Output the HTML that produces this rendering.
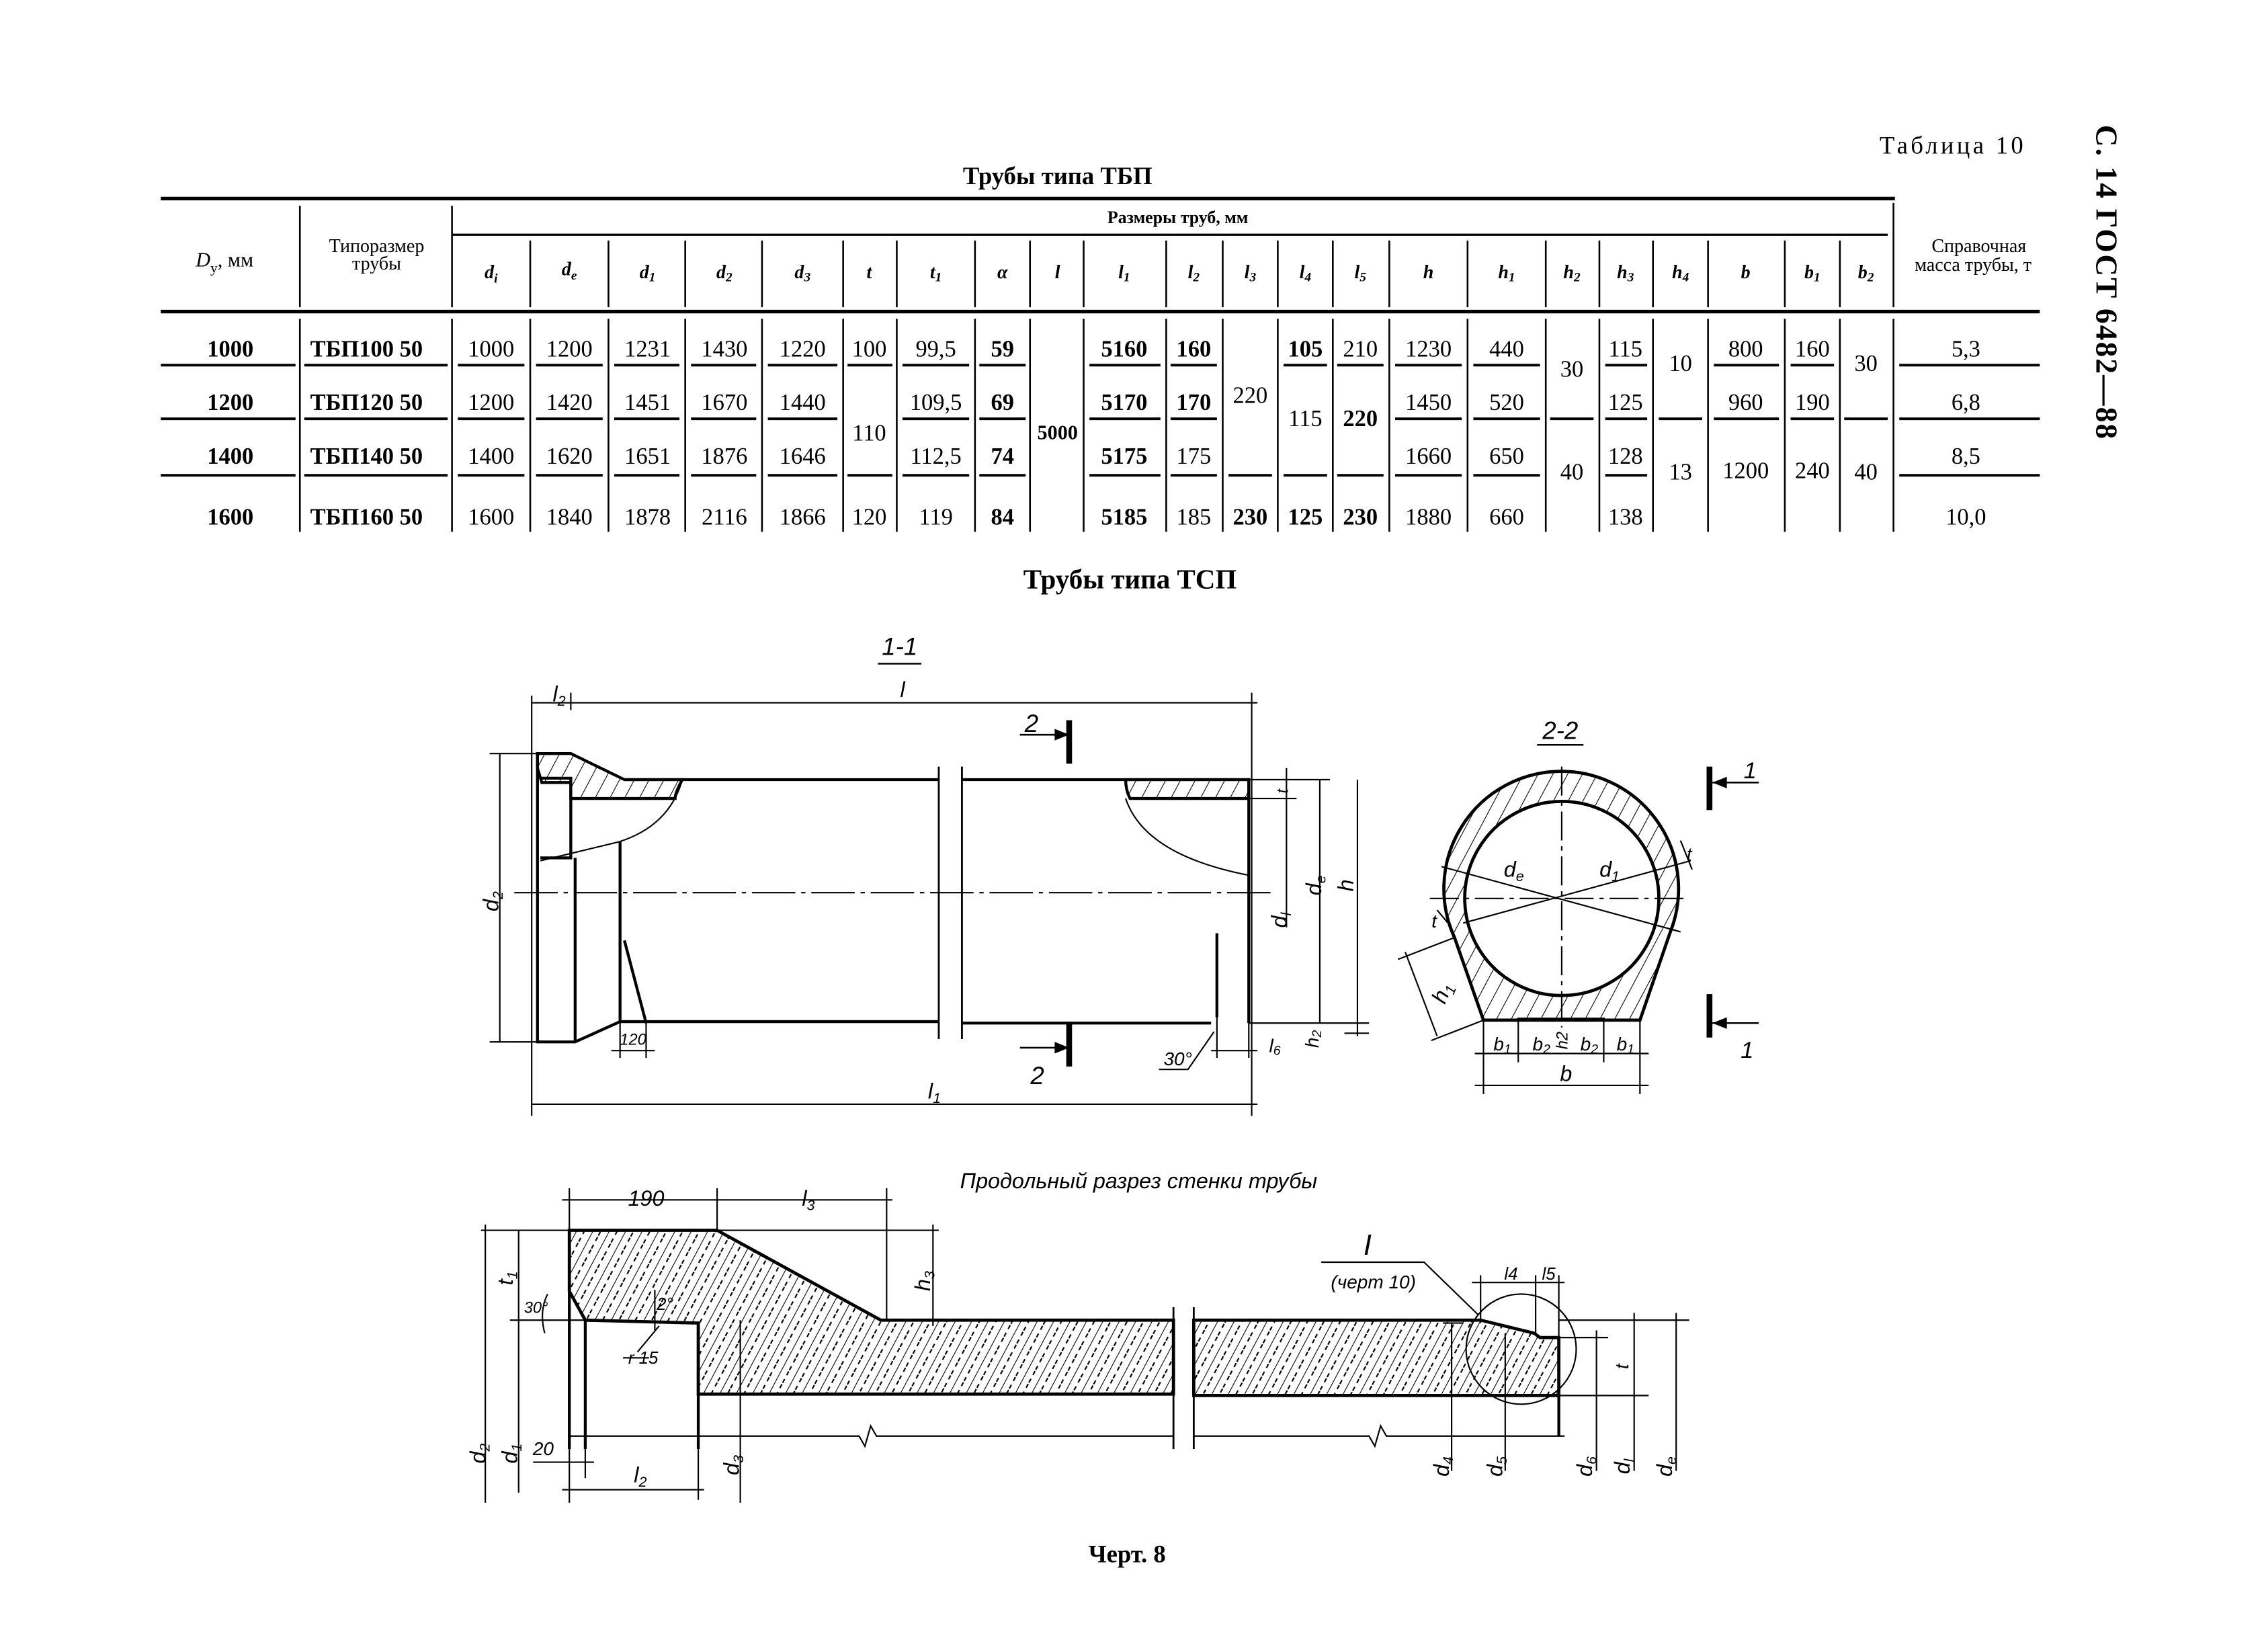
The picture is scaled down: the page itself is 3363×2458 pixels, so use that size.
<!DOCTYPE html>
<html><head><meta charset="utf-8"><style>
html,body{margin:0;padding:0;background:#fff}
svg{display:block}
text{font-family:"Liberation Serif","DejaVu Serif",serif;fill:#000}
.n{font-size:16px;text-anchor:middle}
.b{font-weight:bold}
.h{font-size:13px;text-anchor:middle;font-style:italic;font-weight:bold}
.s{font-family:"Liberation Sans","DejaVu Sans",sans-serif;font-style:italic;font-size:15px;text-anchor:middle}
</style></head><body>
<svg width="3363" height="2458" viewBox="0 0 1560 1140" preserveAspectRatio="none" xmlns="http://www.w3.org/2000/svg">
<defs>
<pattern id="ht" width="9" height="9" patternUnits="userSpaceOnUse" patternTransform="rotate(28)">
<line x1="0" y1="0" x2="0" y2="9" stroke="#000" stroke-width="1"/>
</pattern>
<pattern id="ht2" width="10" height="10" patternUnits="userSpaceOnUse" patternTransform="rotate(28)">
<line x1="0" y1="0" x2="0" y2="10" stroke="#000" stroke-width="1"/>
<line x1="5" y1="0" x2="5" y2="10" stroke="#000" stroke-width="1" stroke-dasharray="3 3"/>
</pattern>
</defs>
<g stroke="#000" fill="none">
<!-- TABLE -->
<line x1="111" y1="137" x2="1308" y2="137" stroke-width="2.5"/>
<line x1="312" y1="162" x2="1303" y2="162" stroke-width="1.5"/>
<line x1="111" y1="215" x2="1408" y2="215" stroke-width="2.5"/>
<g stroke-width="1.2">
<line x1="207" y1="142" x2="207" y2="212"/><line x1="312" y1="142" x2="312" y2="212"/><line x1="1307" y1="140" x2="1307" y2="212"/>
<path d="M366 166V212M420 166V212M473 166V212M526 166V212M582 166V212M619 166V212M673 166V212M711 166V212M748 166V212M805 166V212M844 166V212M882 166V212M920 166V212M959 166V212M1013 166V212M1067 166V212M1104 166V212M1141 166V212M1179 166V212M1232 166V212M1270 166V212"/>
<path d="M207 220V367M312 220V367M366 220V367M420 220V367M473 220V367M526 220V367M582 220V367M619 220V367M673 220V367M711 220V367M748 220V367M805 220V367M844 220V367M882 220V367M920 220V367M959 220V367M1013 220V367M1067 220V367M1104 220V367M1141 220V367M1179 220V367M1232 220V367M1270 220V367M1307 220V367"/>
</g>
<g stroke-width="1.8">
<!-- row1 underline -->
<path d="M111 252H204M210 252H309M316 252H362M370 252H416M424 252H469M477 252H522M530 252H578M585 252H616M623 252H669M676 252H708M752 252H801M808 252H840M886 252H916M923 252H955M963 252H1009M1017 252H1063M1108 252H1137M1183 252H1228M1236 252H1266M1311 252H1408"/>
<path d="M111 289H204M210 289H309M316 289H362M370 289H416M424 289H469M477 289H522M530 289H578M623 289H669M676 289H708M752 289H801M808 289H840M963 289H1009M1017 289H1063M1070 289H1100M1108 289H1137M1145 289H1175M1183 289H1228M1236 289H1266M1273 289H1303M1311 289H1408"/>
<path d="M111 328H204M210 328H309M316 328H362M370 328H416M424 328H469M477 328H522M530 328H578M585 328H616M623 328H669M676 328H708M752 328H801M808 328H840M848 328H878M886 328H916M923 328H955M963 328H1009M1017 328H1063M1108 328H1137M1311 328H1408"/>
</g>
</g>
<text x="730" y="127" class="b" style="font-size:17px;text-anchor:middle">Трубы типа ТБП</text>
<text x="1348" y="106" style="font-size:17px;text-anchor:middle;letter-spacing:2px">Таблица 10</text>
<text transform="translate(1447,195) rotate(90)" class="b" style="font-size:21px;text-anchor:middle;letter-spacing:1px">С. 14 ГОСТ 6482—88</text>
<text x="813" y="154" class="b" style="font-size:12px;text-anchor:middle">Размеры труб, мм</text>
<text x="155" y="184" style="font-size:14px;text-anchor:middle"><tspan font-style="italic">D</tspan><tspan font-size="10" dy="4">у</tspan><tspan dy="-4">, мм</tspan></text>
<text x="260" y="174" style="font-size:13px;text-anchor:middle">Типоразмер</text>
<text x="260" y="186" style="font-size:13px;text-anchor:middle">трубы</text>
<text x="1366" y="174" style="font-size:13px;text-anchor:middle">Справочная</text>
<text x="1362" y="187" style="font-size:13px;text-anchor:middle">масса трубы, т</text>
<g class="h">
<text x="339" y="192" class="h">d<tspan font-size="9" dy="3">i</tspan></text>
<text x="393" y="190" class="h">d<tspan font-size="9" dy="3">e</tspan></text>
<text x="447" y="192" class="h">d<tspan font-size="9" dy="2">1</tspan></text>
<text x="500" y="192" class="h">d<tspan font-size="9" dy="2">2</tspan></text>
<text x="554" y="192" class="h">d<tspan font-size="9" dy="2">3</tspan></text>
<text x="600" y="192" class="h">t</text>
<text x="646" y="192" class="h">t<tspan font-size="9" dy="2">1</tspan></text>
<text x="692" y="192" class="h">α</text>
<text x="730" y="192" class="h">l</text>
<text x="776" y="192" class="h">l<tspan font-size="9" dy="2">1</tspan></text>
<text x="824" y="192" class="h">l<tspan font-size="9" dy="2">2</tspan></text>
<text x="863" y="192" class="h">l<tspan font-size="9" dy="2">3</tspan></text>
<text x="901" y="192" class="h">l<tspan font-size="9" dy="2">4</tspan></text>
<text x="939" y="192" class="h">l<tspan font-size="9" dy="2">5</tspan></text>
<text x="986" y="192" class="h">h</text>
<text x="1040" y="192" class="h">h<tspan font-size="9" dy="2">1</tspan></text>
<text x="1085" y="192" class="h">h<tspan font-size="9" dy="2">2</tspan></text>
<text x="1122" y="192" class="h">h<tspan font-size="9" dy="2">3</tspan></text>
<text x="1160" y="192" class="h">h<tspan font-size="9" dy="2">4</tspan></text>
<text x="1205" y="192" class="h">b</text>
<text x="1251" y="192" class="h">b<tspan font-size="9" dy="2">1</tspan></text>
<text x="1288" y="192" class="h">b<tspan font-size="9" dy="2">2</tspan></text>
</g>
<g class="n">
<text x="159" y="246" class="n b">1000</text><text x="159" y="283" class="n b">1200</text><text x="159" y="320" class="n b">1400</text><text x="159" y="362" class="n b">1600</text>
<text x="253" y="246" class="n b">ТБП100 50</text><text x="253" y="283" class="n b">ТБП120 50</text><text x="253" y="320" class="n b">ТБП140 50</text><text x="253" y="362" class="n b">ТБП160 50</text>
<text x="339" y="246" class="n">1000</text><text x="339" y="283" class="n">1200</text><text x="339" y="320" class="n">1400</text><text x="339" y="362" class="n">1600</text>
<text x="393" y="246" class="n">1200</text><text x="393" y="283" class="n">1420</text><text x="393" y="320" class="n">1620</text><text x="393" y="362" class="n">1840</text>
<text x="447" y="246" class="n">1231</text><text x="447" y="283" class="n">1451</text><text x="447" y="320" class="n">1651</text><text x="447" y="362" class="n">1878</text>
<text x="500" y="246" class="n">1430</text><text x="500" y="283" class="n">1670</text><text x="500" y="320" class="n">1876</text><text x="500" y="362" class="n">2116</text>
<text x="554" y="246" class="n">1220</text><text x="554" y="283" class="n">1440</text><text x="554" y="320" class="n">1646</text><text x="554" y="362" class="n">1866</text>
<text x="600" y="246" class="n">100</text><text x="600" y="304" class="n">110</text><text x="600" y="362" class="n">120</text>
<text x="646" y="246" class="n">99,5</text><text x="646" y="283" class="n">109,5</text><text x="646" y="320" class="n">112,5</text><text x="646" y="362" class="n">119</text>
<text x="692" y="246" class="n b">59</text><text x="692" y="283" class="n b">69</text><text x="692" y="320" class="n b">74</text><text x="692" y="362" class="n b">84</text>
<text x="730" y="303" class="n b" style="font-size:14px">5000</text>
<text x="776" y="246" class="n b">5160</text><text x="776" y="283" class="n b">5170</text><text x="776" y="320" class="n b">5175</text><text x="776" y="362" class="n b">5185</text>
<text x="824" y="246" class="n b">160</text><text x="824" y="283" class="n b">170</text><text x="824" y="320" class="n">175</text><text x="824" y="362" class="n">185</text>
<text x="863" y="278" class="n">220</text><text x="863" y="362" class="n b">230</text>
<text x="901" y="246" class="n b">105</text><text x="901" y="294" class="n">115</text><text x="901" y="362" class="n b">125</text>
<text x="939" y="246" class="n">210</text><text x="939" y="294" class="n b">220</text><text x="939" y="362" class="n b">230</text>
<text x="986" y="246" class="n">1230</text><text x="986" y="283" class="n">1450</text><text x="986" y="320" class="n">1660</text><text x="986" y="362" class="n">1880</text>
<text x="1040" y="246" class="n">440</text><text x="1040" y="283" class="n">520</text><text x="1040" y="320" class="n">650</text><text x="1040" y="362" class="n">660</text>
<text x="1085" y="260" class="n">30</text><text x="1085" y="331" class="n">40</text>
<text x="1122" y="246" class="n">115</text><text x="1122" y="283" class="n">125</text><text x="1122" y="320" class="n">128</text><text x="1122" y="362" class="n">138</text>
<text x="1160" y="256" class="n">10</text><text x="1160" y="331" class="n">13</text>
<text x="1205" y="246" class="n">800</text><text x="1205" y="283" class="n">960</text><text x="1205" y="330" class="n">1200</text>
<text x="1251" y="246" class="n">160</text><text x="1251" y="283" class="n">190</text><text x="1251" y="330" class="n">240</text>
<text x="1288" y="256" class="n">30</text><text x="1288" y="331" class="n">40</text>
<text x="1357" y="246" class="n">5,3</text><text x="1357" y="283" class="n">6,8</text><text x="1357" y="320" class="n">8,5</text><text x="1357" y="362" class="n">10,0</text>
</g>
<text x="780" y="406" class="b" style="font-size:19px;text-anchor:middle">Трубы типа ТСП</text>

<!-- SECTION 1-1 -->
<text x="621" y="452" class="s" style="font-size:17px">1-1</text>
<line x1="606" y1="458" x2="636" y2="458" stroke="#000" stroke-width="1.2"/>
<g stroke="#000" fill="none">
<path d="M371 520L394 520L431 538L471 538Q466 547 466 551L394 551L394 540L374 540L371 530Z" fill="url(#ht)" stroke-width="2"/>
<path d="M777 538L862 538L862 551L780 551Q777 545 777 538Z" fill="url(#ht)" stroke-width="2"/>
<g stroke-width="2">
<path d="M431 538H648M664 538H862V706"/>
<path d="M371 520V719H397L428 705H648M664 706H836"/>
<path d="M373 537H394V592H373"/>
<path d="M397 592V719"/>
<path d="M428 581V705M431 649L446 706"/>
<path d="M840 644V702"/>
</g>
<g stroke-width="1">
<path d="M471 538Q462 570 427 581L373 594"/>
<path d="M777 551Q790 590 862 604"/>
<path d="M648 529V717M664 529V717" stroke-width="1.3"/>
<path d="M355 616H880" stroke-dasharray="30 4 3 4"/>
<path d="M367 485H868M394 478V490M367 480V770M864 478V770M367 762H868"/>
<path d="M345 520V719M338 520H371M338 719H371"/>
<path d="M862 538H918M862 551H895M862 706H945M888 530V558M888 551V640M911 538V706M937 538V715M928 713H945"/>
<path d="M428 705V730M446 705V730M422 725H452"/>
<path d="M840 702V730M836 725H868M862 706V730"/>
<path d="M800 738L820 738L838 712"/>
</g>
<g stroke-width="4"><path d="M738 497V527M738 705V736"/></g>
<g stroke-width="1.2"><path d="M704 507H736M704 723H736"/></g>
</g>
<path d="M738 507l-10 -4v8z M738 723l-10 -4v8z" fill="#000"/>
<text x="712" y="505" class="s" style="font-size:17px">2</text>
<text x="716" y="748" class="s" style="font-size:17px">2</text>
<text x="386" y="484" class="s">l<tspan font-size="10" dy="3">2</tspan></text>
<text x="623" y="481" class="s">l</text>
<text x="645" y="758" class="s">l<tspan font-size="10" dy="3">1</tspan></text>
<text x="437" y="721" class="s" style="font-size:11px">120</text>
<text x="813" y="735" class="s" style="font-size:13px">30°</text>
<text x="880" y="726" class="s" style="font-size:13px">l<tspan font-size="9" dy="2">6</tspan></text>
<text transform="translate(344,622) rotate(-90)" class="s">d<tspan font-size="10" dy="3">2</tspan></text>
<text transform="translate(888,635) rotate(-90)" class="s">d<tspan font-size="10" dy="3">l</tspan></text>
<text transform="translate(912,611) rotate(-90)" class="s">d<tspan font-size="10" dy="3">e</tspan></text>
<text transform="translate(934,611) rotate(-90)" class="s">h</text>
<text transform="translate(910,717) rotate(-90)" class="s" style="font-size:13px">h<tspan font-size="9" dy="2">2</tspan></text>
<text transform="translate(889,546) rotate(-90)" class="s" style="font-size:11px">t</text>

<!-- SECTION 2-2 -->
<text x="1077" y="510" class="s" style="font-size:17px">2-2</text>
<line x1="1061" y1="514" x2="1093" y2="514" stroke="#000" stroke-width="1.2"/>
<path fill-rule="evenodd" d="M1024 704L1004 647A81 81 0 1 1 1153 643L1132 704Z M1078 553A67 67 0 1 0 1078.1 553Z" fill="url(#ht)" stroke="#000" stroke-width="2.2"/>
<g stroke="#000" fill="none" stroke-width="1">
<path d="M1048 704V703H1107V704" stroke-width="1.5"/>
<path d="M1078 529V709M987 620H1166" stroke-dasharray="20 4 3 4"/>
<path d="M995 598L1160 643M1010 637L1167 594"/>
<path d="M1024 704V755M1048 704V733M1107 704V733M1132 704V755M1018 727H1138M1018 749H1138"/>
<path d="M1004 647L965 662M1024 704L988 718M970 657L992 715"/>
<path d="M1160 580L1168 600M992 628L1002 640"/>
</g>
<path d="M1180 529V559M1180 686V716" stroke="#000" stroke-width="4"/>
<path d="M1182 540H1214M1182 706H1214" stroke="#000" stroke-width="1.2"/>
<path d="M1182 540l10 -4v8z M1182 706l10 -4v8z" fill="#000"/>
<text x="1208" y="537" class="s" style="font-size:16px">1</text>
<text x="1206" y="730" class="s" style="font-size:16px">1</text>
<text x="1045" y="605" class="s">d<tspan font-size="10" dy="3">e</tspan></text>
<text x="1111" y="605" class="s">d<tspan font-size="10" dy="3">1</tspan></text>
<text x="1166" y="594" class="s" style="font-size:13px">t</text>
<text x="990" y="640" class="s" style="font-size:13px">t</text>
<text transform="translate(1000,687) rotate(-68)" class="s">h<tspan font-size="10" dy="3">1</tspan></text>
<text x="1037" y="725" class="s" style="font-size:13px">b<tspan font-size="9" dy="2">1</tspan></text>
<text x="1064" y="725" class="s" style="font-size:13px">b<tspan font-size="9" dy="2">2</tspan></text>
<text x="1097" y="725" class="s" style="font-size:13px">b<tspan font-size="9" dy="2">2</tspan></text>
<text x="1122" y="725" class="s" style="font-size:13px">b<tspan font-size="9" dy="2">1</tspan></text>
<text transform="translate(1082,718) rotate(-90)" class="s" style="font-size:11px">h2</text>
<text x="1081" y="746" class="s">b</text>

<!-- LONGITUDINAL -->
<text x="786" y="820" class="s" style="font-size:15px">Продольный  разрез  стенки  трубы</text>
<path d="M393 849H495L608 911H810V962H482V913L404 911L393 891Z" fill="url(#ht2)" stroke="#000" stroke-width="2.2"/>
<path d="M824 911H1022L1059 920L1063 923H1076V963H824Z" fill="url(#ht2)" stroke="#000" stroke-width="2.2"/>
<g stroke="#000" fill="none" stroke-width="2">
<path d="M393 849V1000M404 911V1000M482 913V1000M1076 923V991"/>
</g>
<g stroke="#000" fill="none" stroke-width="1">
<path d="M810 902V1000M824 902V1000" stroke-width="1.3"/>
<path d="M393 991H593L597 998L601 984L605 991H810M824 991H945L949 998L953 984L957 991H1080"/>
<path d="M393 820V849M495 820V849M612 820V911M388 828H616"/>
<path d="M332 849H393M495 849H648M644 845V915M608 911H650"/>
<path d="M335 845V1037M358 849V1030M352 911H404M393 1000V1037M404 1000V1020M482 1000V1035M511 911V1037"/>
<path d="M368 1009H410M388 1028H486"/>
<path d="M912 871H983L1020 907"/>
<circle cx="1050" cy="931" r="38"/>
<path d="M1022 880V913M1060 880V920M1076 880V923M1016 885H1080"/>
<path d="M1076 911H1166M1076 923H1110M1076 963H1138M1128 906V968M1128 963V1015M1157 906V1015M1102 918V1015M1002 913V1015M1039 920V1015M996 913H1010"/>
<path d="M378 893Q372 905 376 920M452 890V918M440 933L455 915"/>
<path d="M430 937H448"/>
</g>
<text x="446" y="832" class="s">190</text>
<text x="558" y="832" class="s">l<tspan font-size="10" dy="3">3</tspan></text>
<text transform="translate(642,884) rotate(-90)" class="s">h<tspan font-size="10" dy="3">3</tspan></text>
<text transform="translate(354,882) rotate(-90)" class="s">t<tspan font-size="10" dy="3">1</tspan></text>
<text transform="translate(335,1003) rotate(-90)" class="s">d<tspan font-size="10" dy="3">2</tspan></text>
<text transform="translate(357,1003) rotate(-90)" class="s">d<tspan font-size="10" dy="3">1</tspan></text>
<text transform="translate(510,1011) rotate(-90)" class="s">d<tspan font-size="10" dy="3">3</tspan></text>
<text x="370" y="906" class="s" style="font-size:11px">30°</text>
<text x="459" y="904" class="s" style="font-size:12px">2°</text>
<text x="444" y="941" class="s" style="font-size:12px">r 15</text>
<text x="375" y="1004" class="s" style="font-size:13px">20</text>
<text x="442" y="1023" class="s">l<tspan font-size="10" dy="3">2</tspan></text>
<text x="944" y="866" class="s" style="font-size:20px">I</text>
<text x="948" y="889" class="s" style="font-size:13px">(черт 10)</text>
<text x="1043" y="883" class="s" style="font-size:12px">l4</text>
<text x="1069" y="883" class="s" style="font-size:12px">l5</text>
<text transform="translate(1124,943) rotate(-90)" class="s" style="font-size:13px">t</text>
<text transform="translate(1000,1012) rotate(-90)" class="s">d<tspan font-size="10" dy="3">4</tspan></text>
<text transform="translate(1037,1012) rotate(-90)" class="s">d<tspan font-size="10" dy="3">5</tspan></text>
<text transform="translate(1099,1012) rotate(-90)" class="s">d<tspan font-size="10" dy="3">6</tspan></text>
<text transform="translate(1125,1012) rotate(-90)" class="s">d<tspan font-size="10" dy="3">l</tspan></text>
<text transform="translate(1154,1012) rotate(-90)" class="s">d<tspan font-size="10" dy="3">e</tspan></text>
<text x="778" y="1078" class="b" style="font-size:17px;text-anchor:middle">Черт. 8</text>
</svg>
</body></html>
